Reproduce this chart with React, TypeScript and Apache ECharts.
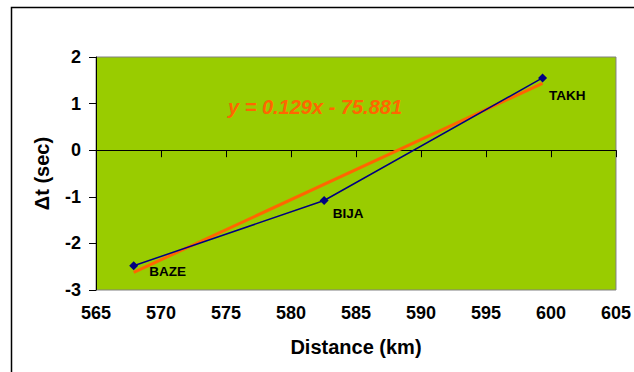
import React, { useEffect, useRef } from "react";
import * as echarts from "echarts";

const stations = ["BAZE", "BIJA", "TAKH"];
const distances = [567.9, 582.55, 599.35];
const deltaT = [-2.48, -1.08, 1.55];
const trendSlope = 0.129;
const trendIntercept = -75.881;
const xTicks = [565, 570, 575, 580, 585, 590, 595, 600, 605];
const yTicks = [-3, -2, -1, 0, 1, 2];
const equationText = "y = 0.129x - 75.881";

const labelOffsets: Record<string, [number, number]> = {
  BAZE: [6, 6],
  BIJA: [-1, 13],
  TAKH: [-3, 18],
};

export default function App() {
  const ref = useRef<HTMLDivElement>(null);
  useEffect(() => {
    if (!ref.current) return;
    const chart = echarts.init(ref.current, null, { renderer: "svg" });
    const xMin = Math.min(...distances);
    const xMax = Math.max(...distances);
    const trend = [
      [xMin, trendSlope * xMin + trendIntercept],
      [xMax, trendSlope * xMax + trendIntercept],
    ];
    const font = "'Liberation Sans', Arial, sans-serif";
    chart.setOption({
      animation: false,
      backgroundColor: "#fff",
      textStyle: { fontFamily: font },
      grid: {
        left: 96,
        top: 57,
        right: 18,
        bottom: 82,
        show: true,
        backgroundColor: "#99CC00",
        borderColor: "#808080",
        borderWidth: 1,
      },
      xAxis: {
        type: "value",
        min: 565,
        max: 605,
        interval: 5,
        name: "Distance (km)",
        nameLocation: "middle",
        nameGap: 47,
        nameTextStyle: { fontSize: 20, fontWeight: "bold", color: "#000", fontFamily: font },
        axisLine: { show: true, lineStyle: { color: "#000", width: 1 } },
        axisTick: { show: true, length: 7, lineStyle: { color: "#000" } },
        axisLabel: {
          fontSize: 18,
          fontWeight: "bold",
          color: "#000",
          margin: 14,
          fontFamily: font,
          formatter: (v: number) => (xTicks.includes(v) ? String(v) : ""),
        },
        splitLine: { show: false },
      },
      yAxis: {
        type: "value",
        min: -3,
        max: 2,
        interval: 1,
        name: "\u0394t (sec)",
        nameLocation: "middle",
        nameGap: 44,
        nameTextStyle: { fontSize: 20, fontWeight: "bold", color: "#000", fontFamily: font },
        axisLine: { show: true, lineStyle: { color: "#000", width: 1 } },
        axisTick: { show: true, length: 7, lineStyle: { color: "#000" } },
        axisLabel: {
          fontSize: 18,
          fontWeight: "bold",
          color: "#000",
          margin: 15,
          fontFamily: font,
          formatter: (v: number) => (yTicks.includes(v) ? String(v) : ""),
        },
        splitLine: { show: false },
      },
      graphic: [
        {
          type: "rect",
          shape: { x: 11.5, y: 7.5, width: 700, height: 500 },
          style: { fill: "none", stroke: "#000", lineWidth: 1.5 },
          silent: true,
          z: -1,
        },
        {
          type: "text",
          x: 228,
          y: 107,
          style: {
            text: equationText,
            fill: "#FF6600",
            fontSize: 20,
            fontWeight: "bold",
            fontStyle: "italic",
            fontFamily: font,
            verticalAlign: "middle",
          },
          z: 10,
        },
      ],
      series: [
        {
          type: "line",
          data: distances.map((d, i) => ({
            value: [d, deltaT[i]],
            name: stations[i],
            label: { offset: labelOffsets[stations[i]] },
          })),
          symbol: "diamond",
          symbolSize: 9,
          lineStyle: { color: "#000080", width: 1.5 },
          itemStyle: { color: "#000080" },
          label: {
            show: true,
            position: "right",
            formatter: (p: any) => p.name,
            fontSize: 13.5,
            fontWeight: "bold",
            color: "#000",
            fontFamily: font,
          },
          z: 3,
        },
        {
          type: "line",
          data: trend,
          symbol: "none",
          lineStyle: { color: "#FF6600", width: 3 },
          z: 2,
        },
      ],
    });
    return () => chart.dispose();
  }, []);
  return (
    <div
      ref={ref}
      style={{ position: "fixed", left: 0, top: 0, width: 634, height: 372 }}
    />
  );
}
